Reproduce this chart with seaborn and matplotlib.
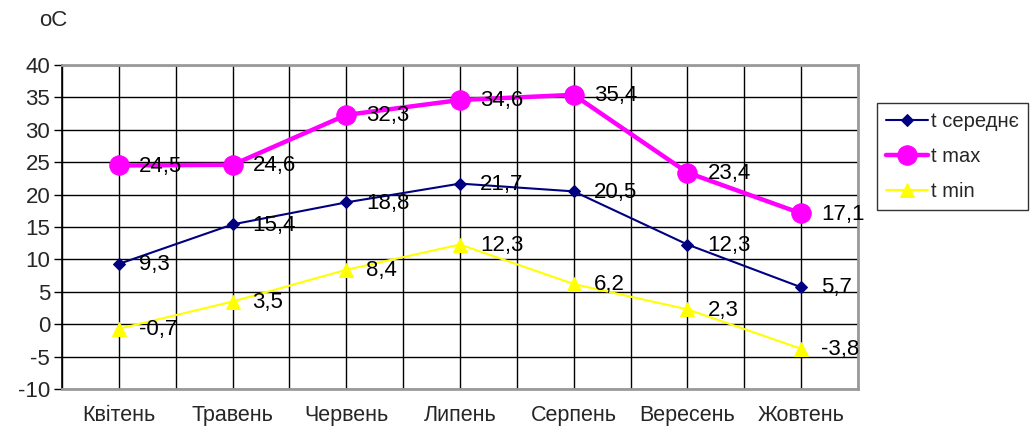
import matplotlib
matplotlib.use("Agg")
import matplotlib.pyplot as plt
import seaborn as sns
import pandas as pd
import numpy as np

months = ["Квітень", "Травень", "Червень", "Липень", "Серпень", "Вересень", "Жовтень"]
t_mean = [9.3, 15.4, 18.8, 21.7, 20.5, 12.3, 5.7]
t_max = [24.5, 24.6, 32.3, 34.6, 35.4, 23.4, 17.1]
t_min = [-0.7, 3.5, 8.4, 12.3, 6.2, 2.3, -3.8]
series_names = ["t середнє", "t max", "t min"]
y_ticks = [-10, -5, 0, 5, 10, 15, 20, 25, 30, 35, 40]

sns.set_theme(style="white")
plt.rcParams["font.family"] = ["Liberation Sans", "DejaVu Sans"]

fig = plt.figure(figsize=(10.35, 4.3), dpi=100)
ax = fig.add_axes([0.0599, 0.0953, 0.7691, 0.7535])

df = pd.DataFrame({"month": months, "mean": t_mean, "max": t_max, "min": t_min})

styles = [
    ("mean", series_names[0], "#000080", "D", 6.5, 1.5),
    ("max", series_names[1], "#FF00FF", "o", 14, 3.2),
    ("min", series_names[2], "#FFFF00", "^", 10, 1.5),
]

for col, name, color, marker, ms, lw in styles:
    sns.lineplot(data=df, x="month", y=col, ax=ax, color=color, marker=marker,
                 markersize=ms, linewidth=lw, markeredgecolor=color,
                 label=name, sort=False, zorder=3)
    for i, v in enumerate(df[col]):
        ax.annotate(f"{v:.1f}".replace(".", ","), (i, v), xytext=(14.4, -0.5),
                    textcoords="offset points", ha="left", va="center",
                    fontsize=16, color="black", zorder=4)

ax.set_xlim(-0.5, len(months) - 0.5)
ax.set_ylim(-10, 40)
ax.set_yticks(y_ticks)
ax.set_yticklabels([str(t) for t in y_ticks])
ax.set_xticks(range(len(months)))
ax.set_xticklabels(months)
ax.set_xticks(np.arange(-0.5, len(months), 1.0), minor=True)
ax.set_xlabel("")
ax.set_ylabel("")

ax.grid(True, which="major", axis="both", color="black", linewidth=1.0)
ax.grid(True, which="minor", axis="x", color="black", linewidth=1.0)
ax.set_axisbelow(True)

ax.tick_params(axis="y", which="major", left=True, direction="out", length=5.5,
               width=1, color="black", labelsize=16, pad=3)
ax.tick_params(axis="x", which="both", bottom=False, labelsize=15.5, pad=5.5)

for side in ["top", "right", "bottom"]:
    ax.spines[side].set_color("#9a9a9a")
    ax.spines[side].set_linewidth(2)
ax.spines["left"].set_color("black")
ax.spines["left"].set_linewidth(1.2)

fig.text(0.038, 0.953, "oC", fontsize=16, ha="left", va="center")

leg = ax.legend(loc="upper left", bbox_to_anchor=(1.024, 0.883), frameon=True,
                fontsize=14.5, handlelength=2.1, labelspacing=0.8, borderpad=0.45,
                handletextpad=0.15, fancybox=False, borderaxespad=0)
leg.get_frame().set_edgecolor("black")
leg.get_frame().set_linewidth(1.0)

fig.savefig("out.png", dpi=100)
